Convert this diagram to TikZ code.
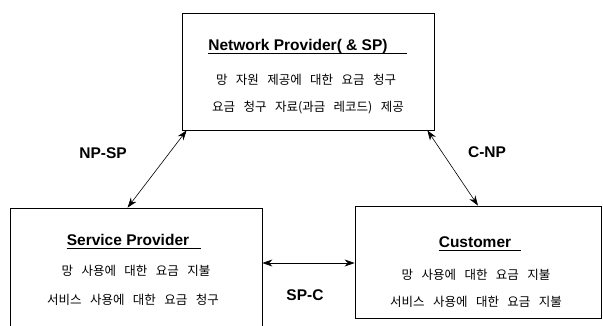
\documentclass[tikz,border=0pt]{standalone}
\usepackage{fontspec}
\setmainfont{Liberation Sans}
\newfontfamily\kr[WordSpace=3]{Noto Sans CJK KR}
\usetikzlibrary{arrows.meta}
\tikzset{
  box/.style={draw, line width=0.8pt, rectangle, inner sep=0pt},
  ttl/.style={font=\fontsize{15.5}{18}\selectfont\bfseries, inner sep=0pt, anchor=base},
  krline/.style={font=\fontsize{12.5}{15}\selectfont\kr, inner sep=0pt},
  lnk/.style={line width=0.6pt, {Stealth[length=10pt,width=7pt]}-{Stealth[length=10pt,width=7pt]}},
  lbl/.style={font=\fontsize{15.5}{18}\selectfont\bfseries, inner sep=0pt}
}
\begin{document}
\begin{tikzpicture}[x=1pt,y=-1pt]
\useasboundingbox (0,0) rectangle (603,325);
\clip (0,0) rectangle (603,325);
% boxes
\node[box, minimum width=252pt, minimum height=117pt] (np) at (308,71.5) {};
\node[box, minimum width=252pt, minimum height=128pt] (sp) at (136,272) {};
\node[box, minimum width=246pt, minimum height=112pt] (cust) at (478,262) {};
% titles
\node[ttl] (nptitle) at (298,50) {Network Provider( \& SP)};
\node[ttl] (sptitle) at (128,245) {Service Provider};
\node[ttl] (custtitle) at (475,247) {Customer};
\draw[line width=0.7pt] ([yshift=-3pt]nptitle.base west) -- ([yshift=-3pt,xshift=19pt]nptitle.base east);
\draw[line width=0.7pt] ([yshift=-3pt]sptitle.base west) -- ([yshift=-3pt,xshift=12pt]sptitle.base east);
\draw[line width=0.7pt] ([yshift=-3pt]custtitle.base west) -- ([yshift=-3pt,xshift=10pt]custtitle.base east);
% text lines
\node[krline] (np1) at (306,80) {망 자원 제공에 대한 요금 청구};
\node[krline] (np2) at (308,108) {요금 청구 자료(과금 레코드) 제공};
\node[krline] (sp1) at (136,271) {망 사용에 대한 요금 지불};
\node[krline] (sp2) at (133,300) {서비스 사용에 대한 요금 청구};
\node[krline] (cust1) at (476,275) {망 사용에 대한 요금 지불};
\node[krline] (cust2) at (476,302) {서비스 사용에 대한 요금 지불};
% links
\draw[lnk] ([xshift=5pt]np.south west) -- ([xshift=118pt]sp.north west);
\draw[lnk] ([xshift=-7pt]np.south east) -- (cust.north);
\draw[lnk] ([yshift=9pt]sp.east) -- ([yshift=9pt]sp.east -| cust.west);
\node[lbl] (npsp) at (103,153) {NP-SP};
\node[lbl] (cnp) at (487,152) {C-NP};
\node[lbl] (spc) at (305,295) {SP-C};
\end{tikzpicture}
\end{document}
